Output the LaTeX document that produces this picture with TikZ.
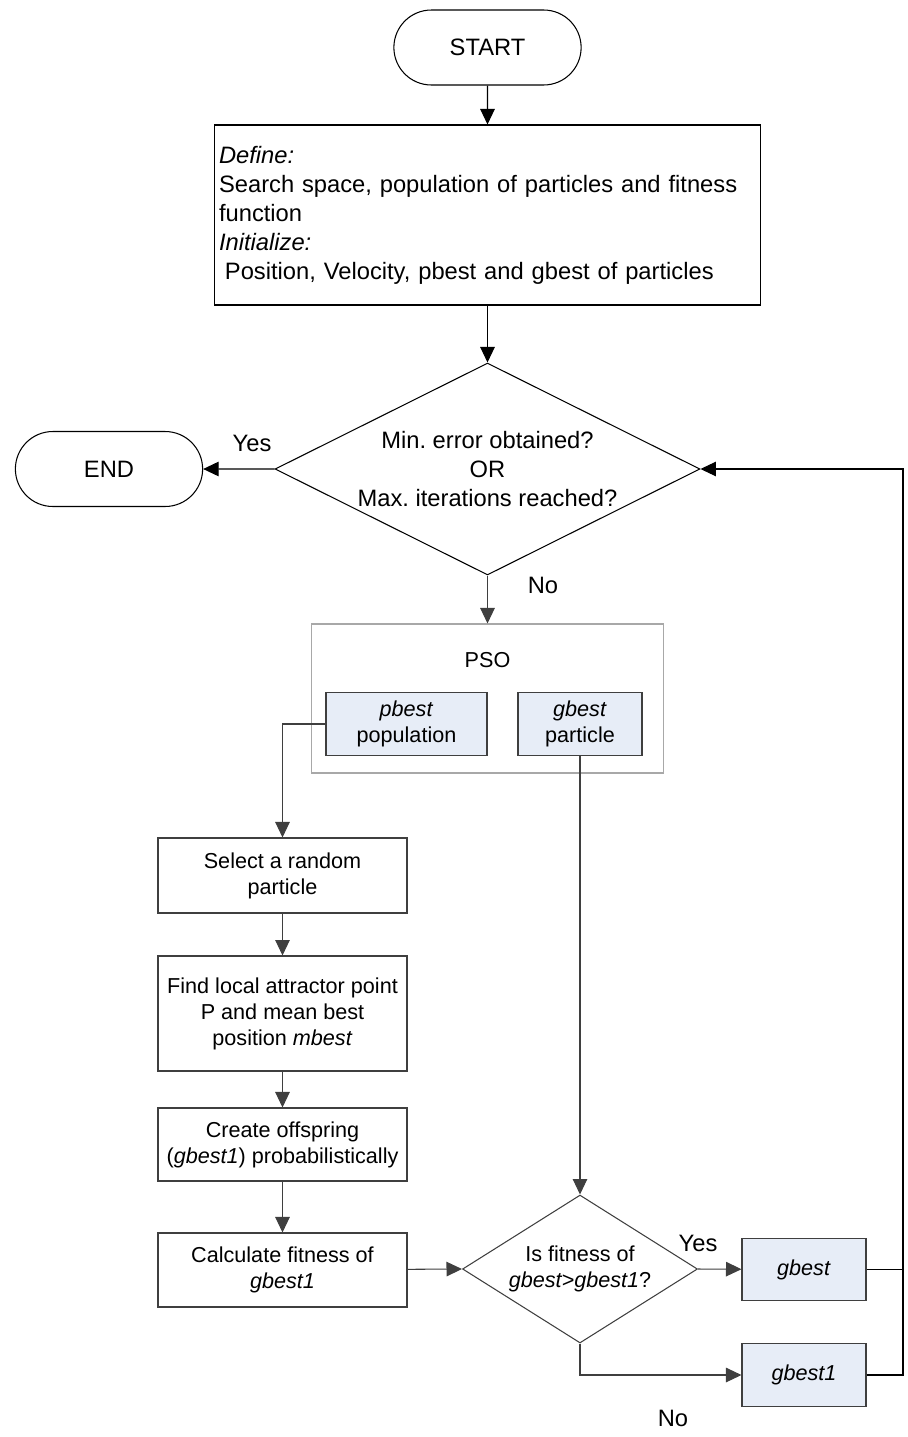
\documentclass[tikz,border=0pt]{standalone}
\usepackage{fontspec}
\setmainfont{Liberation Sans}
\usepackage{tikz}
\usetikzlibrary{arrows.meta,shapes.geometric,shapes.misc}
\definecolor{bestfill}{HTML}{E7EDF7}
\definecolor{psoframe}{HTML}{A8A8A8}
\definecolor{flowgray}{HTML}{3F3F3F}
\frenchspacing

\begin{document}
\begin{tikzpicture}[x=0.02cm,y=-0.02cm,line width=0.6pt,
  every node/.style={font=\fontsize{12.3}{14.8}\selectfont},
  bigtext/.style={font=\fontsize{13.5}{16.5}\selectfont},
  terminal/.style={draw,rounded rectangle,bigtext,minimum width=3.98cm,minimum height=1.5cm},
  stepbox/.style={draw=flowgray,align=center,minimum width=4.98cm,inner sep=0pt},
  bestbox/.style={draw=flowgray,fill=bestfill,align=center,minimum height=1.25cm,inner sep=0pt},
  decision/.style={draw,diamond,align=center,inner sep=-0.4cm},
  flow/.style={draw=flowgray,-{Triangle[length=0.31cm,width=0.29cm]}}]
  \useasboundingbox (0,0) rectangle (907,1437);

  % main column
  \node[terminal] (start) at (487.5,47.5) {START};
  \node[draw,bigtext,align=left,text width=10.74cm,minimum height=3.6cm,inner xsep=0.1cm] (setup) at (487.5,215)
    {\textit{Define:}\\Search space, population of particles and fitness\\function\\\textit{Initialize:}\\\hspace{0.25em}Position, Velocity, pbest and gbest of particles};
  \node[decision,bigtext,minimum width=8.5cm,minimum height=4.24cm,aspect=2] (stopq) at (487.5,469)
    {Min. error obtained?\\OR\\Max. iterations reached?};
  \node[terminal] (end) at (109,469) {END};

  % PSO block
  \node[draw=psoframe,minimum width=7.06cm,minimum height=2.98cm,inner sep=0pt] (pso) at (487.5,698.5) {};
  \node (psotitle) at (487.5,660) {PSO};
  \node[bestbox,minimum width=3.22cm] (pbest) at (406.5,724) {\textit{pbest}\\population};
  \node[bestbox,minimum width=2.48cm] (gbestp) at (580,724) {\textit{gbest}\\particle};

  % offspring column
  \node[stepbox,minimum height=1.5cm] (select) at (282.5,875.5) {Select a random\\particle};
  \node[stepbox,minimum height=2.3cm] (attract) at (282.5,1013.5) {Find local attractor point\\P and mean best\\position \textit{mbest}};
  \node[stepbox,minimum height=1.46cm] (offspring) at (282.5,1144.5) {Create offspring\\(\textit{gbest1}) probabilistically};
  \node[stepbox,minimum height=1.48cm] (fitness) at (282.5,1270) {Calculate fitness of\\\textit{gbest1}};
  \node[decision,draw=flowgray,minimum width=4.7cm,minimum height=2.96cm,aspect=1.6] (better) at (580,1269)
    {Is fitness of\\\textit{gbest>gbest1}?};
  \node[bestbox,minimum width=2.48cm] (keep) at (804,1269.5) {\textit{gbest}};
  \node[bestbox,minimum width=2.48cm] (swap) at (804,1375) {\textit{gbest1}};
  \coordinate (back) at (903,469);

  % labels
  \node[bigtext] (yes1) at (252,443) {Yes};
  \node[bigtext] (no1) at (543,585) {No};
  \node[bigtext] (yes2) at (698,1243) {Yes};
  \node[bigtext] (no2) at (673,1418) {No};

  % connectors
  \draw[flow,draw=black] (start) -- (setup);
  \draw[flow,draw=black] (setup) -- (stopq);
  \draw[flow,draw=black] (stopq.west) -- (end);
  \draw[flow] (stopq.south) -- (pso.north);
  \draw[flow] (pbest.west) -| (select.north);
  \draw[flow] (gbestp.south) -- (better.north);
  \draw[flow] (select) -- (attract);
  \draw[flow] (attract) -- (offspring);
  \draw[flow] (offspring) -- (fitness);
  \draw[flow] (fitness) -- (better.west);
  \draw[flow] (better.east) -- (keep);
  \draw[flow] (better.south) |- (swap);
  \draw[draw=black] (keep.east) -- (keep.east -| back);
  \draw[flow,draw=black] (swap.east) -| (back) -- (stopq.east);
\end{tikzpicture}
\end{document}
